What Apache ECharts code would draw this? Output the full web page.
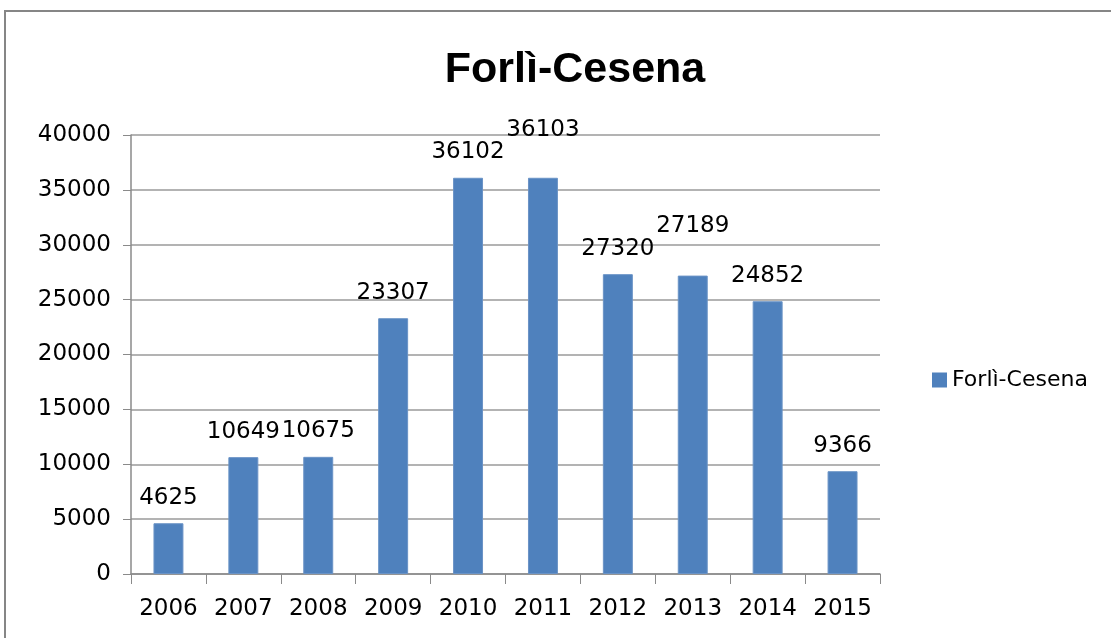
<!DOCTYPE html>
<html>
<head>
<meta charset="utf-8">
<script src="https://cdn.jsdelivr.net/npm/echarts@6/dist/echarts.min.js"></script>
<style>
html,body{margin:0;padding:0;background:#fff;}
#c{width:1111px;height:638px;}
</style>
</head>
<body>
<div id="c"></div>
<script>
const categories = ['2006','2007','2008','2009','2010','2011','2012','2013','2014','2015'];
const values = [4625, 10649, 10675, 23307, 36102, 36103, 27320, 27189, 24852, 9366];
const seriesName = 'Forlì-Cesena';
const titleText = 'Forlì-Cesena';

// labels moved upward to avoid overlap (index -> label distance)
const raisedLabels = {5: 36, 7: 38};

const chart = echarts.init(document.getElementById('c'));
const font = "'DejaVu Sans', sans-serif";
const titleFont = "'Liberation Sans', Arial, sans-serif";

chart.setOption({
  animation: false,
  backgroundColor: '#fff',
  title: {
    text: titleText,
    left: 570, top: 44, textAlign: 'center',
    textStyle: {fontFamily: titleFont, fontSize: 43, fontWeight: 'bold', color: '#000'}
  },
  legend: {
    data: [seriesName],
    left: 927, top: 364,
    icon: 'rect', itemWidth: 15, itemHeight: 15, itemGap: 11,
    itemStyle: {borderWidth: 0},
    textStyle: {fontFamily: font, fontSize: 22, color: '#000'}
  },
  grid: {left: 131, right: 231, top: 135, bottom: 64},
  xAxis: {
    type: 'category',
    data: categories,
    axisLine: {lineStyle: {color: '#8a8a8a', width: 1.5}},
    axisTick: {show: true, interval: 0, alignWithLabel: false, length: 10, lineStyle: {color: '#8a8a8a'}},
    axisLabel: {interval: 0, hideOverlap: false, fontFamily: font, fontSize: 23, color: '#000', margin: 24}
  },
  yAxis: {
    type: 'value',
    min: 0, max: 40000, interval: 5000,
    axisLine: {show: true, lineStyle: {color: '#8a8a8a', width: 1.5}},
    axisTick: {show: true, length: 8, lineStyle: {color: '#8a8a8a'}},
    splitLine: {lineStyle: {color: '#9a9a9a', width: 1.5}},
    axisLabel: {fontFamily: font, fontSize: 23, color: '#000', margin: 20,
      formatter: v => String(v)}
  },
  graphic: [{
    type: 'rect',
    shape: {x: 5, y: 11, width: 1120, height: 650},
    style: {fill: 'none', stroke: '#868686', lineWidth: 2},
    silent: true
  }],
  series: [{
    name: seriesName,
    type: 'bar',
    barWidth: '40%',
    itemStyle: {color: '#4F81BD', borderColor: '#6A93C6', borderWidth: 1},
    label: {show: true, position: 'top', distance: 14, fontFamily: font, fontSize: 23, color: '#000'},
    data: values.map((v, i) => raisedLabels[i] !== undefined
      ? {value: v, label: {distance: raisedLabels[i]}}
      : v)
  }]
});
</script>
</body>
</html>
